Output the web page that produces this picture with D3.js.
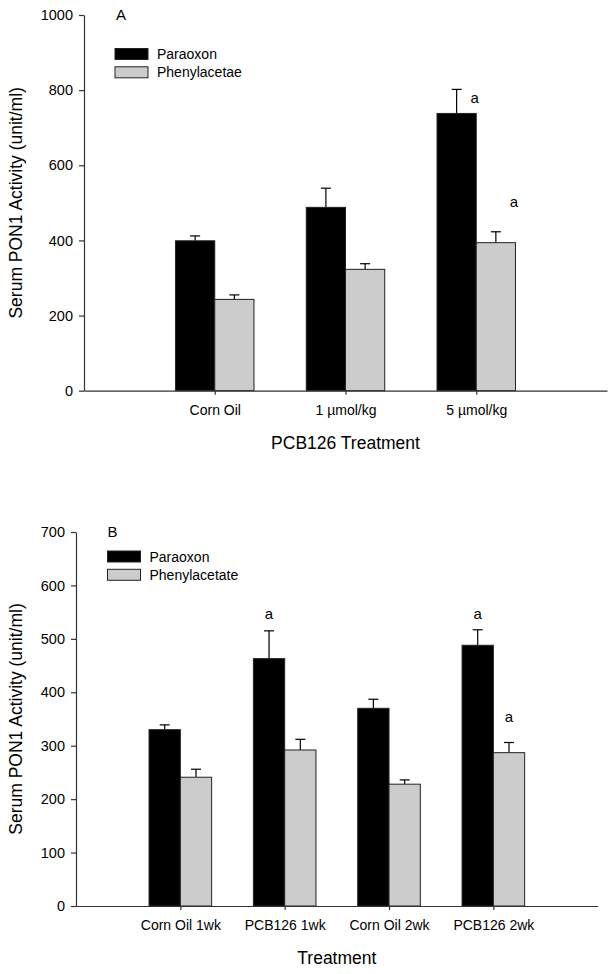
<!DOCTYPE html>
<html>
<head>
<meta charset="utf-8">
<script src="https://cdn.jsdelivr.net/npm/d3@7"></script>
<style>
  html, body { margin: 0; padding: 0; background: #fff; }
  svg { display: block; font-family: Arial, "Liberation Sans", Helvetica, sans-serif; }
</style>
</head>
<body>
<svg id="chart" width="614" height="974"></svg>
<script>
// ---------- Data ----------
const seriesNames = ["Paraoxon", "Phenylacetate"];
const legendA = ["Paraoxon", "Phenylacetae"];
const legendB = ["Paraoxon", "Phenylacetate"];

const categoriesA = ["Corn Oil", "1 \u00b5mol/kg", "5 \u00b5mol/kg"];
const paraoxonA = [399, 488, 738];
const paraoxonErrA = [13, 51, 64];
const phenylA = [243, 323, 394];
const phenylErrA = [12, 15, 29];
const yTicksA = [0, 200, 400, 600, 800, 1000];
// significance letters: [categoryIndex, seriesIndex, value]
const lettersA = [[2, 0, 781], [2, 1, 504]];

const categoriesB = ["Corn Oil 1wk", "PCB126 1wk", "Corn Oil 2wk", "PCB126 2wk"];
const paraoxonB = [330, 463, 370, 488];
const paraoxonErrB = [9, 52, 17, 29];
const phenylB = [241, 292, 228, 287];
const phenylErrB = [15, 20, 8, 19];
const yTicksB = [0, 100, 200, 300, 400, 500, 600, 700];
const lettersB = [[1, 0, 548], [3, 0, 548], [3, 1, 354]];

const colors = ["#000000", "#cccccc"];

const svg = d3.select("#chart");

function panel(cfg) {
  const g = svg.append("g");
  const n = cfg.categories.length;
  const x = d3.scaleLinear().domain([0, n + 1]).range([cfg.x0, cfg.x1]);
  const y = d3.scaleLinear().domain([0, cfg.yMax]).range([cfg.y0, cfg.y1]);
  const step = x(1) - x(0);
  const bw = step * 0.3;

  // bars
  const series = [
    { vals: cfg.s1, errs: cfg.e1, color: colors[0], off: -bw },
    { vals: cfg.s2, errs: cfg.e2, color: colors[1], off: 0 }
  ];
  series.forEach((s, si) => {
    const data = cfg.categories.map((c, i) => ({ i, v: s.vals[i], e: s.errs[i] }));
    // error bars (upward only)
    g.selectAll(null).data(data).enter().append("line")
      .attr("x1", d => x(d.i + 1) + s.off + bw / 2)
      .attr("x2", d => x(d.i + 1) + s.off + bw / 2)
      .attr("y1", d => y(d.v)).attr("y2", d => y(d.v + d.e))
      .attr("stroke", "#000").attr("stroke-width", 1.2);
    g.selectAll(null).data(data).enter().append("line")
      .attr("x1", d => x(d.i + 1) + s.off + bw / 2 - 5)
      .attr("x2", d => x(d.i + 1) + s.off + bw / 2 + 5)
      .attr("y1", d => y(d.v + d.e)).attr("y2", d => y(d.v + d.e))
      .attr("stroke", "#000").attr("stroke-width", 1.2);
    g.selectAll(null).data(data).enter().append("rect")
      .attr("x", d => x(d.i + 1) + s.off)
      .attr("y", d => y(d.v))
      .attr("width", bw)
      .attr("height", d => y(0) - y(d.v))
      .attr("fill", s.color)
      .attr("stroke", "#222").attr("stroke-width", 1);
  });

  // axes
  const yAxis = d3.axisLeft(y).tickValues(cfg.yTicks).tickSize(5).tickSizeOuter(0).tickPadding(6)
    .tickFormat(d3.format("d"));
  const ya = g.append("g").attr("transform", `translate(${cfg.x0},0)`).call(yAxis);
  const xAxis = d3.axisBottom(x).tickValues(d3.range(1, n + 1)).tickSize(4).tickSizeOuter(0)
    .tickPadding(10).tickFormat(d => cfg.categories[d - 1]);
  const xa = g.append("g").attr("transform", `translate(0,${cfg.y0})`).call(xAxis);
  [ya, xa].forEach(a => {
    a.selectAll("path,line").attr("stroke", "#333").attr("stroke-width", 1.2);
    a.selectAll("text").attr("fill", "#000").attr("font-family", "Arial, 'Liberation Sans', sans-serif");
  });
  ya.selectAll("text").attr("font-size", 14.5);
  xa.selectAll("text").attr("font-size", 14);

  // axis titles
  g.append("text")
    .attr("transform", `translate(${cfg.yTitleX},${(cfg.y0 + cfg.y1) / 2}) rotate(-90)`)
    .attr("text-anchor", "middle").attr("dominant-baseline", "central")
    .attr("font-size", 17.5).text("Serum PON1 Activity (unit/ml)");
  g.append("text")
    .attr("x", (cfg.x0 + cfg.x1) / 2).attr("y", cfg.xTitleY)
    .attr("text-anchor", "middle").attr("font-size", 17.5).text(cfg.xTitle);

  // panel label
  g.append("text").attr("x", cfg.labelX).attr("y", cfg.y1 + 5)
    .attr("font-size", 15).text(cfg.label);

  // legend
  const lg = g.append("g").attr("transform", `translate(${cfg.legX},${cfg.legY})`);
  cfg.legend.forEach((name, i) => {
    lg.append("rect").attr("x", 0).attr("y", i * 18.3).attr("width", 33).attr("height", 11)
      .attr("fill", colors[i]).attr("stroke", "#222").attr("stroke-width", 1);
    lg.append("text").attr("x", 42).attr("y", i * 18.3 + 5.5)
      .attr("dominant-baseline", "central").attr("font-size", 14).text(name);
  });

  // letters
  cfg.letters.forEach(([ci, si, v]) => {
    const cx = x(ci + 1) + (si === 0 ? -bw : 0) + bw / 2 + cfg.letterDx;
    g.append("text").attr("x", cx).attr("y", y(v))
      .attr("text-anchor", "middle").attr("dominant-baseline", "central")
      .attr("font-size", 15).text("a");
  });
}

panel({
  categories: categoriesA, s1: paraoxonA, e1: paraoxonErrA, s2: phenylA, e2: phenylErrA,
  yMax: 1000, yTicks: yTicksA, x0: 84, x1: 607, y0: 390.7, y1: 15,
  yTitleX: 16, xTitleY: 449, xTitle: "PCB126 Treatment", label: "A", labelX: 116,
  legend: legendA, legX: 115, legY: 48.5, letters: lettersA, letterDx: 18
});

panel({
  categories: categoriesB, s1: paraoxonB, e1: paraoxonErrB, s2: phenylB, e2: phenylErrB,
  yMax: 700, yTicks: yTicksB, x0: 76, x1: 597.7, y0: 906, y1: 532,
  yTitleX: 16, xTitleY: 964, xTitle: "Treatment", label: "B", labelX: 107.5,
  legend: legendB, legX: 107.5, legY: 551, letters: lettersB, letterDx: 0
});
</script>
</body>
</html>
